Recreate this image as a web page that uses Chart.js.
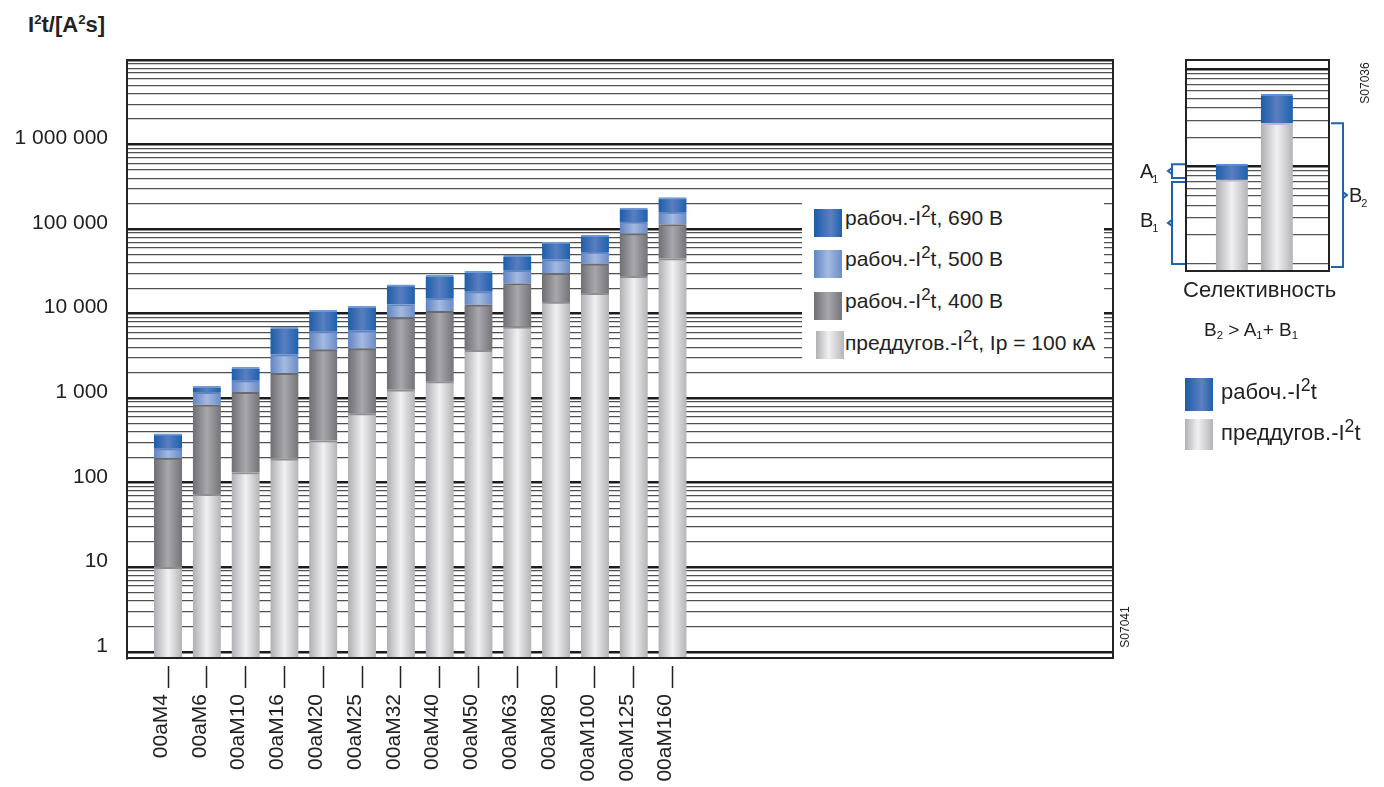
<!DOCTYPE html>
<html>
<head>
<meta charset="utf-8">
<script src="https://cdn.jsdelivr.net/npm/chart.js@4.4.1/dist/chart.umd.min.js"></script>
<style>
  body { margin: 0; background: #fff; font-family: "Liberation Sans", Arial, sans-serif; color: #222; }
  #wrap { position: relative; width: 1384px; height: 787px; overflow: hidden; }
  canvas { position: absolute; }
  #title { position: absolute; left: 28px; top: 12px; font-weight: bold; font-size: 22px; }
  #title sup { font-size: 0.6em; vertical-align: 0.6em; line-height: 0; }
  .leg { position: absolute; font-size: 21px; line-height: 1; }
  .leg sup { font-size: 0.8em; vertical-align: 0.45em; line-height: 0; }
  .sw { position: absolute; width: 28px; height: 28px; }
  .txt { position: absolute; white-space: nowrap; }
  .code { position: absolute; width: 60px; text-align: center; font-size: 12px; transform: rotate(-90deg); }
  #legend { position: absolute; left: 802px; top: 197px; width: 302px; height: 175px; background: #fff; }
  .g690 { background: linear-gradient(90deg, #1b5da9, #5e80c0 60%, #1d61ad); }
  .g500 { background: linear-gradient(90deg, #6185c3, #a5bae1 50%, #6a8cc8); }
  .g400 { background: linear-gradient(90deg, #707074, #a9a9ad 50%, #75757a); }
  .gpre { background: linear-gradient(90deg, #b0b0b4, #f1f1f3 45%, #b6b6b9); }
  sub { font-size: 0.6em; vertical-align: -0.25em; line-height: 0; }
</style>
</head>
<body>
<div id="wrap">
  <div id="title">I<sup>2</sup>t/[A<sup>2</sup>s]</div>
  <canvas id="main" width="1140" height="787" style="left:0;top:0"></canvas>
  <div id="legend"></div>
  <div class="leg">
    <div class="sw g690" style="left:814px;top:209px"></div>
    <div class="txt" style="left:845px;top:207px">рабоч.-I<sup>2</sup>t, 690 В</div>
    <div class="sw g500" style="left:814px;top:250px"></div>
    <div class="txt" style="left:845px;top:248px">рабоч.-I<sup>2</sup>t, 500 В</div>
    <div class="sw g400" style="left:814px;top:292px"></div>
    <div class="txt" style="left:845px;top:290px">рабоч.-I<sup>2</sup>t, 400 В</div>
    <div class="sw gpre" style="left:816px;top:331px"></div>
    <div class="txt" style="left:845px;top:332px">преддугов.-I<sup>2</sup>t, Ip = 100 кА</div>
  </div>
  <div class="code" style="left:1095px;top:620px">S07041</div>

  <canvas id="inset" width="254" height="250" style="left:1130px;top:50px"></canvas>
  <div class="code" style="left:1335px;top:76px">S07036</div>
  <div class="leg" style="font-size:22px">
    <div class="txt" style="left:1183px;top:279px">Селективность</div>
  </div>
  <div class="leg" style="font-size:19px">
    <div class="txt" style="left:1204px;top:320px">B<sub>2</sub> &gt; A<sub>1</sub>+ B<sub>1</sub></div>
  </div>
  <div class="leg" style="font-size:22px">
    <div class="sw g690" style="left:1185px;top:378px;height:33px"></div>
    <div class="txt" style="left:1221px;top:381px">рабоч.-I<sup>2</sup>t</div>
    <div class="sw gpre" style="left:1185px;top:419px;height:31px"></div>
    <div class="txt" style="left:1221px;top:422px">преддугов.-I<sup>2</sup>t</div>
  </div>
</div>

<script>
// fuse types on the x axis
const fuses = ["00aM4", "00aM6", "00aM10", "00aM16", "00aM20", "00aM25", "00aM32",
               "00aM40", "00aM50", "00aM63", "00aM80", "00aM100", "00aM125", "00aM160"];
// top of each segment, A²s
const preArc = [10, 73, 132, 192, 316, 656, 1257, 1567, 3680, 7000, 13700, 17400, 27700, 44800];
const op400 = [196, 834, 1169, 1968, 3750, 3850, 8980, 10640, 12730, 22700, 30000, 38800, 88300, 113300];
const op500 = [253, 1169, 1611, 3281, 6120, 6280, 12840, 15200, 18200, 32500, 43600, 53600, 121700, 159000];
const op690 = [379, 1378, 2323, 6870, 10940, 12170, 21900, 28400, 31600, 49000, 70000, 85100, 177000, 235500];
const yTickLabels = ["1", "10", "100", "1 000", "10 000", "100 000", "1 000 000"];

// selectivity inset: downstream fuse (1) and upstream fuse (2)
const selPre = [7.3, 27.9];
const selWork = [10.6, 55.4];

const Y_MIN = 0.845, Y_MAX = 1e7;
const X_MIN = -0.057, X_MAX = 25.35;
const BAR_W = 28;
const FONT = "'Liberation Sans', Arial, sans-serif";

const isDecade = v => Math.abs(Math.log10(v) - Math.round(Math.log10(v))) < 1e-6;

function barGradient(stops, width) {
  return (c) => {
    const chart = c.chart;
    const xs = chart.scales.x;
    if (!chart.chartArea || !xs || !c.raw) return stops[1];
    const cx = xs.getPixelForValue(c.raw.x);
    const g = chart.ctx.createLinearGradient(cx - width / 2, 0, cx + width / 2, 0);
    g.addColorStop(0, stops[0]);
    g.addColorStop(0.5, stops[1]);
    g.addColorStop(1, stops[2]);
    return g;
  };
}

const fills = {
  pre: ["#afafb3", "#f1f1f3", "#b4b4b7"],
  v400: ["#6f6f73", "#a8a8ac", "#747478"],
  v500: ["#6084c3", "#a4b9e0", "#6a8cc8"],
  v690: ["#1b5ea9", "#5a7ebf", "#1c62ae"],
};

function seg(lo, hi) {
  return hi.map((v, i) => ({ x: i + 1, y: [lo ? lo[i] : Y_MIN, v] }));
}

function segDataset(data, stops, edge, width) {
  return {
    data,
    backgroundColor: barGradient(stops, width),
    borderColor: edge,
    borderWidth: { top: 2, left: 0, right: 0, bottom: 0 },
    borderSkipped: false,
    barThickness: width,
    grouped: false,
    clip: 0,
  };
}

const frame = {
  id: "frame",
  afterDatasetsDraw(chart) {
    const { ctx, chartArea: a } = chart;
    ctx.save();
    ctx.strokeStyle = "#222";
    ctx.lineWidth = 2;
    ctx.strokeRect(a.left, a.top, a.right - a.left, a.bottom - a.top);
    ctx.restore();
  },
};

new Chart(document.getElementById("main"), {
  type: "bar",
  data: {
    datasets: [
      segDataset(seg(null, preArc), fills.pre, "#8f8f92", BAR_W),
      segDataset(seg(preArc, op400), fills.v400, "#6b6b6f", BAR_W),
      segDataset(seg(op400, op500), fills.v500, "#5f84c4", BAR_W),
      segDataset(seg(op500, op690), fills.v690, "#6f9ad6", BAR_W),
    ],
  },
  options: {
    responsive: false,
    animation: false,
    layout: { padding: { top: 60, right: 27, left: 0, bottom: 0 } },
    plugins: { legend: { display: false }, tooltip: { enabled: false } },
    scales: {
      x: {
        type: "linear",
        min: X_MIN,
        max: X_MAX,
        offset: false,
        afterBuildTicks: (s) => { s.ticks = fuses.map((_, i) => ({ value: i + 1 })); },
        afterFit: (s) => { s.height = 129; },
        ticks: {
          autoSkip: false,
          minRotation: 90,
          maxRotation: 90,
          padding: 6,
          labelOffset: -7,
          color: "#222",
          font: { family: FONT, size: 21 },
          callback: (v) => fuses[v - 1] ?? "",
        },
        grid: {
          offset: false,
          drawOnChartArea: false,
          drawTicks: true,
          tickLength: 30,
          tickColor: "#222",
          tickWidth: 1.5,
          tickBorderDash: [0, 7, 23, 60],
        },
        border: { display: true, color: "#222", width: 2 },
      },
      y: {
        type: "logarithmic",
        min: Y_MIN,
        max: Y_MAX,
        afterBuildTicks: (s) => {
          const t = [];
          for (let e = 0; e < 7; e++) for (let m = 1; m < 10; m++) t.push({ value: m * Math.pow(10, e) });
          t.push({ value: Y_MAX });
          s.ticks = t;
        },
        afterFit: (s) => { s.width = 127; },
        ticks: {
          autoSkip: false,
          padding: 19,
          labelOffset: -6,
          color: "#222",
          font: { family: FONT, size: 21 },
          callback: (v) => (isDecade(v) ? yTickLabels[Math.round(Math.log10(v))] ?? "" : ""),
        },
        grid: {
          drawTicks: false,
          color: (c) => (isDecade(c.tick.value) ? "#1c1c1c" : "#505050"),
          lineWidth: (c) => (isDecade(c.tick.value) ? 2.5 : 1.3),
        },
        border: { display: true, color: "#222", width: 2 },
      },
    },
  },
  plugins: [frame],
});

// selectivity inset
const brackets = {
  id: "brackets",
  afterDraw(chart) {
    const { ctx, scales: { y } } = chart;
    ctx.save();
    ctx.strokeStyle = "#1f62ad";
    ctx.lineWidth = 2;
    const draw = (x, cap, top, bot, dir) => {
      const m = (top + bot) / 2;
      ctx.beginPath();
      ctx.moveTo(cap, top); ctx.lineTo(x, top); ctx.lineTo(x, bot); ctx.lineTo(cap, bot);
      ctx.moveTo(x, m - 3); ctx.lineTo(x + dir * 4, m); ctx.lineTo(x, m + 3);
      ctx.stroke();
    };
    const yA1 = y.getPixelForValue(selWork[0]);
    const yP1 = y.getPixelForValue(selPre[0]);
    const yP2 = y.getPixelForValue(selPre[1]);
    const y1 = y.getPixelForValue(1);
    draw(42, 55, yA1, yP1 - 2, -1);
    draw(42, 55, yP1 + 2, y1, -1);
    draw(213, 201, yP2, y1 + 3, 1);

    ctx.fillStyle = "#222";
    const label = (t, s, x, yy) => {
      ctx.font = "20px " + FONT;
      ctx.textBaseline = "alphabetic";
      ctx.fillText(t, x, yy);
      const w = ctx.measureText(t).width;
      ctx.font = "11px " + FONT;
      ctx.fillText(s, x + w - 1, yy + 5);
    };
    label("A", "1", 10, (yA1 + yP1) / 2 + 6);
    label("B", "1", 10, (yP1 + y1) / 2 + 5);
    label("B", "2", 219, (yP2 + y1) / 2 + 8);
    ctx.restore();
  },
};

new Chart(document.getElementById("inset"), {
  type: "bar",
  data: {
    datasets: [
      segDataset(selPre.map((v, i) => ({ x: i + 1, y: [0.7, v] })), fills.pre, "#b9b9bc", 32),
      segDataset(selWork.map((v, i) => ({ x: i + 1, y: [selPre[i], v] })), fills.v690, "#5b8fd6", 32),
    ],
  },
  options: {
    responsive: false,
    animation: false,
    layout: { padding: { top: 10, right: 55, left: 56, bottom: 29 } },
    plugins: { legend: { display: false }, tooltip: { enabled: false } },
    scales: {
      x: { type: "linear", min: -0.02, max: 3.16, offset: false, display: false },
      y: {
        type: "logarithmic",
        min: 0.845,
        max: 125,
        afterBuildTicks: (s) => {
          const t = [];
          for (let e = 0; e < 2; e++) for (let m = 1; m < 10; m++) t.push({ value: m * Math.pow(10, e) });
          t.push({ value: 100 }, { value: 125 });
          s.ticks = t;
        },
        afterFit: (s) => { s.width = 0; },
        ticks: { display: false },
        grid: {
          drawTicks: false,
          color: (c) => (isDecade(c.tick.value) && c.tick.value > 1 ? "#1c1c1c" : "#555"),
          lineWidth: (c) => (isDecade(c.tick.value) && c.tick.value > 1 ? 2.5 : 1.3),
        },
        border: { display: true, color: "#222", width: 2 },
      },
    },
  },
  plugins: [frame, brackets],
});
</script>
</body>
</html>
